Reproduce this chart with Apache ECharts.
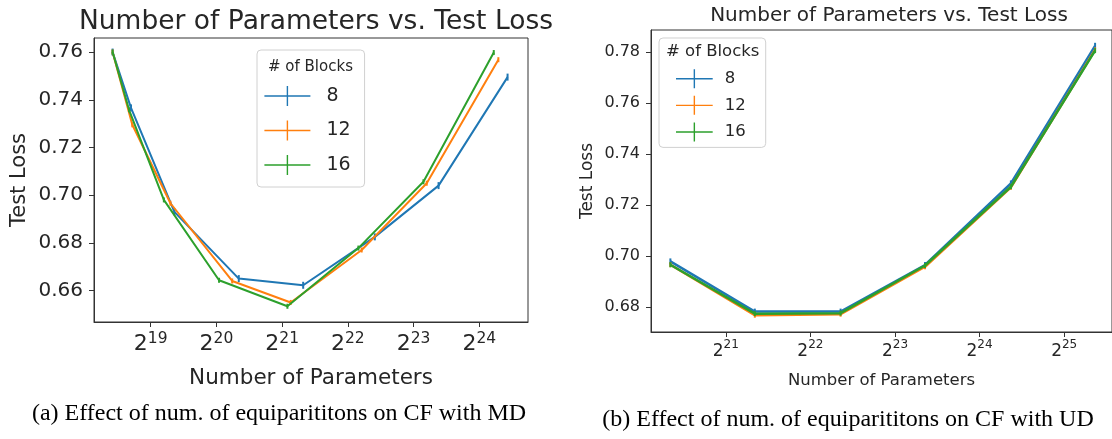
<!DOCTYPE html>
<html>
<head>
<meta charset="utf-8">
<title>Number of Parameters vs. Test Loss</title>
<script src="https://cdn.jsdelivr.net/npm/echarts@6/dist/echarts.min.js"></script>
<style>
  html, body { margin: 0; padding: 0; background: #fff; }
  #main { width: 1112px; height: 439px; }
</style>
</head>
<body>
<div id="main"></div>
<script>
// blocks in the legend
var blocks = ['8', '12', '16'];
var colors = ['#1f77b4', '#ff7f0e', '#2ca02c'];

// (a) MD : log2 of number of parameters, test loss
var log2ParamsMD8  = [18.42, 18.70, 19.36, 20.34, 21.32, 22.41, 23.38, 24.43];
var lossMD8        = [0.760, 0.7366, 0.693, 0.665, 0.6622, 0.6825, 0.704, 0.7495];
var log2ParamsMD12 = [18.42, 18.72, 19.30, 20.24, 21.13, 22.21, 23.20, 24.29];
var lossMD12       = [0.760, 0.7295, 0.6966, 0.664, 0.655, 0.677, 0.705, 0.7568];
var log2ParamsMD16 = [18.42, 18.67, 19.20, 20.04, 21.08, 22.16, 23.15, 24.22];
var lossMD16       = [0.760, 0.7358, 0.698, 0.6643, 0.6534, 0.6778, 0.7056, 0.7598];

// (b) UD
var log2ParamsUD = [20.345, 21.343, 22.357, 23.355, 24.37, 25.365];
var lossUD8  = [0.6979, 0.6782, 0.6782, 0.6965, 0.7285, 0.7825];
var lossUD12 = [0.6966, 0.6768, 0.6772, 0.6958, 0.727, 0.7809];
var lossUD16 = [0.6966, 0.6774, 0.6776, 0.6963, 0.7272, 0.7806];

// tick labels
var xTicksMD = [19, 20, 21, 22, 23, 24];
var yTicksMD = [0.66, 0.68, 0.70, 0.72, 0.74, 0.76];
var xTicksUD = [21, 22, 23, 24, 25];
var yTicksUD = [0.68, 0.70, 0.72, 0.74, 0.76, 0.78];

function pairs(xs, ys) {
  var out = [];
  for (var i = 0; i < xs.length; i++) out.push([xs[i], ys[i]]);
  return out;
}

var font = 'DejaVu Sans';
var txt = '#262626';
var legendIcon = 'path://M0,9.3h46v1.4h-46z M22.3,0h1.4v20h-1.4z';
var legendIconB = 'path://M0,8.8h36.7v1.4h-36.7z M17.65,0h1.4v19h-1.4z';
var errBar = 'path://M0,0h1v10h-1z';

var myChart = echarts.init(document.getElementById('main'));

function xAxisOf(idx, min, max, ticks, big, small, pad, margin, nameSize, nameGap) {
  return {
    type: 'value', gridIndex: idx, min: min, max: max,
    name: 'Number of Parameters', nameLocation: 'middle', nameGap: nameGap,
    nameTextStyle: { fontFamily: font, fontSize: nameSize, color: txt },
    axisLine: { show: true, lineStyle: { color: '#333', width: 1 } },
    axisTick: { show: true, length: 5, lineStyle: { color: '#333' }, customValues: ticks },
    splitLine: { show: false },
    axisLabel: {
      customValues: ticks, margin: margin, color: txt,
      formatter: function (v) { return '{b|2}{s|' + Math.round(v) + '}'; },
      rich: {
        b: { fontFamily: font, fontSize: big, color: txt, verticalAlign: 'bottom', padding: [pad, 0, 0, 0] },
        s: { fontFamily: font, fontSize: small, color: txt, verticalAlign: 'top' }
      }
    }
  };
}

function yAxisOf(idx, min, max, ticks, size, margin, nameSize, gap) {
  return {
    type: 'value', gridIndex: idx, min: min, max: max,
    name: 'Test Loss', nameLocation: 'middle', nameRotate: 90, nameGap: gap,
    nameTextStyle: { fontFamily: font, fontSize: nameSize, color: txt },
    axisLine: { show: true, lineStyle: { color: '#333', width: 1 } },
    axisTick: { show: true, length: 5, lineStyle: { color: '#333' }, customValues: ticks },
    splitLine: { show: false },
    axisLabel: {
      customValues: ticks, margin: margin, color: txt, fontFamily: font, fontSize: size,
      formatter: function (v) { return v.toFixed(2); }
    }
  };
}

function lineSeries(name, i, gi, xs, ys, w, sym) {
  return {
    name: name, type: 'line', xAxisIndex: gi, yAxisIndex: gi,
    data: pairs(xs, ys),
    symbol: errBar, symbolSize: sym, showSymbol: true,
    lineStyle: { color: colors[i], width: w },
    itemStyle: { color: colors[i] },
    z: 2 + i
  };
}

var option = {
  animation: false,
  title: [
    { text: 'Number of Parameters vs. Test Loss', left: 311, top: 4, textAlign: 'center',
      textStyle: { fontFamily: font, fontSize: 26.5, fontWeight: 'normal', color: txt } },
    { text: 'Number of Parameters vs. Test Loss', left: 884, top: 1, textAlign: 'center',
      textStyle: { fontFamily: font, fontSize: 20, fontWeight: 'normal', color: txt } }
  ],
  grid: [
    { left: 94, right: 584, top: 38, bottom: 117, show: true, borderColor: '#333', borderWidth: 1, backgroundColor: 'transparent' },
    { left: 651, right: 0, top: 30, bottom: 107, show: true, borderColor: '#333', borderWidth: 1, backgroundColor: 'transparent' }
  ],
  xAxis: [
    xAxisOf(0, 18.137, 24.741, xTicksMD, 22, 15.5, 2, 9, 21.5, 45),
    xAxisOf(1, 20.116, 25.565, xTicksUD, 17, 12, 4, 7, 16.5, 40)
  ],
  yAxis: [
    yAxisOf(0, 0.6468, 0.7659, yTicksMD, 20, 11, 21, 64),
    yAxisOf(1, 0.6702, 0.7887, yTicksUD, 16, 11, 17, 55)
  ],
  legend: [
    { data: blocks.map(function (n) { return 'MD ' + n; }),
      left: 257, top: 50, orient: 'vertical',
      padding: [36, 14, 12, 7.4], itemGap: 14.5, itemWidth: 46, itemHeight: 20,
      icon: legendIcon,
      backgroundColor: 'rgba(255,255,255,0.8)', borderColor: '#d0d0d0', borderWidth: 1, borderRadius: 4,
      formatter: function (n) { return n.split(' ')[1]; },
      textStyle: { fontFamily: font, fontSize: 19, color: txt, padding: [0, 0, 0, 11] } },
    { data: blocks.map(function (n) { return 'UD ' + n; }),
      left: 659, top: 38, orient: 'vertical',
      padding: [31.2, 20, 5.9, 17], itemGap: 7.65, itemWidth: 36.7, itemHeight: 19,
      icon: legendIconB,
      backgroundColor: 'rgba(255,255,255,0.8)', borderColor: '#d0d0d0', borderWidth: 1, borderRadius: 4,
      formatter: function (n) { return n.split(' ')[1]; },
      textStyle: { fontFamily: font, fontSize: 16.5, color: txt, padding: [0, 0, 0, 7] } }
  ],
  graphic: [
    { type: 'text', x: 268, y: 67, z: 100,
      style: { text: '# of Blocks', fontFamily: font, fontSize: 15, fill: txt, textVerticalAlign: 'middle' } },
    { type: 'text', x: 666, y: 52, z: 100,
      style: { text: '# of Blocks', fontFamily: font, fontSize: 16.5, fill: txt, textVerticalAlign: 'middle' } },
    { type: 'text', x: 279, y: 414,
      style: { text: '(a) Effect of num. of equiparititons on CF with MD', fontFamily: 'Liberation Serif', fontSize: 24, fill: '#000', textAlign: 'center', textVerticalAlign: 'middle' } },
    { type: 'text', x: 848, y: 420,
      style: { text: '(b) Effect of num. of equiparititons on CF with UD', fontFamily: 'Liberation Serif', fontSize: 24, fill: '#000', textAlign: 'center', textVerticalAlign: 'middle' } }
  ],
  series: [
    lineSeries('MD 8', 0, 0, log2ParamsMD8, lossMD8, 2, [2, 7]),
    lineSeries('MD 12', 1, 0, log2ParamsMD12, lossMD12, 2, [2, 5]),
    lineSeries('MD 16', 2, 0, log2ParamsMD16, lossMD16, 2, [2, 5]),
    lineSeries('UD 8', 0, 1, log2ParamsUD, lossUD8, 2.5, [2, 6]),
    lineSeries('UD 12', 1, 1, log2ParamsUD, lossUD12, 2.5, [2, 5]),
    lineSeries('UD 16', 2, 1, log2ParamsUD, lossUD16, 2.5, [2, 5])
  ]
};

myChart.setOption(option);
</script>
</body>
</html>
